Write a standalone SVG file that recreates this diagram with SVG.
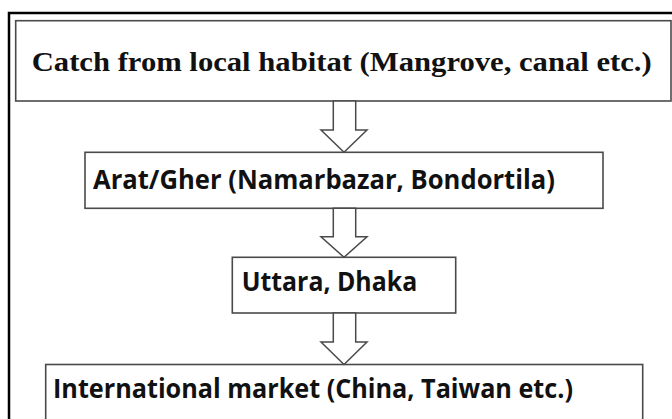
<svg xmlns="http://www.w3.org/2000/svg" width="672" height="419" viewBox="0 0 672 419">
<style>
.frame{fill:none;stroke:#000;stroke-width:2.5}
.box{fill:#fff;stroke:#4a4a4a;stroke-width:1.6}
.arrow{fill:#fff;stroke:#4a4a4a;stroke-width:1.5;stroke-linejoin:miter}
.serif{font-family:"Liberation Serif","Times New Roman",serif;font-weight:bold;fill:#111}
.sans{font-family:"Open Sans","Liberation Sans",Arial,sans-serif;font-weight:bold;fill:#111}
</style>
<rect width="672" height="419" fill="#fff"/>
<path class="frame" d="M9 430 V13 H680"/>
<g id="node-catch">
<rect class="box" x="15.7" y="20.7" width="655.3" height="80.3"/>
<text class="serif" x="31.7" y="71" font-size="27.5" textLength="620" lengthAdjust="spacingAndGlyphs">Catch from local habitat (Mangrove, canal etc.)</text>
</g>
<g id="node-arat">
<rect class="box" x="85" y="152.3" width="518" height="56"/>
<text class="sans" x="93" y="189" font-size="26" textLength="462" lengthAdjust="spacingAndGlyphs">Arat/Gher (Namarbazar, Bondortila)</text>
</g>
<g id="node-uttara">
<rect class="box" x="232.3" y="257.3" width="223.4" height="55.7"/>
<text class="sans" x="241.7" y="291" font-size="26" textLength="175.5" lengthAdjust="spacingAndGlyphs">Uttara, Dhaka</text>
</g>
<g id="node-international">
<rect class="box" x="45.7" y="364.5" width="597" height="70"/>
<text class="sans" x="53" y="398" font-size="26" textLength="520" lengthAdjust="spacingAndGlyphs">International market (China, Taiwan etc.)</text>
</g>
<g id="connectors">
<polygon class="arrow" points="333.3,101 355.7,101 355.7,130 367,130 344,152.3 321,130 333.3,130"/>
<polygon class="arrow" points="333.3,208.3 355.7,208.3 355.7,236.7 367,236.7 344,257.3 321,236.7 333.3,236.7"/>
<polygon class="arrow" points="333.3,313 355.7,313 355.7,342 367,342 344,364.5 321,342 333.3,342"/>
</g>
</svg>
